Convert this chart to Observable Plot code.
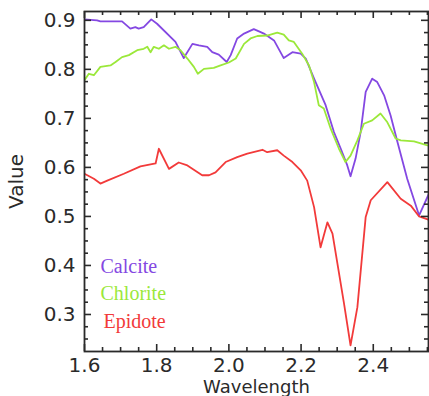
<!DOCTYPE html>
<html>
<head>
<meta charset="utf-8">
<script src="https://cdn.jsdelivr.net/npm/d3@7"></script>
<script src="https://cdn.jsdelivr.net/npm/@observablehq/plot@0.6"></script>
<style>
html, body { margin: 0; padding: 0; background: #fff; }
#chart svg { display: block; }
</style>
</head>
<body>
<div id="chart"></div>
<script>
// ---- Data ----
const seriesNames = ["Calcite", "Chlorite", "Epidote"];

const calciteWavelength = [1.600, 1.635, 1.644, 1.704, 1.727, 1.741, 1.750, 1.764, 1.785, 1.801, 1.852, 1.875, 1.899, 1.917, 1.940, 1.954, 1.972, 1.994, 2.005, 2.023, 2.042, 2.069, 2.088, 2.097, 2.125, 2.152, 2.176, 2.199, 2.213, 2.236, 2.268, 2.291, 2.310, 2.328, 2.337, 2.351, 2.365, 2.379, 2.397, 2.411, 2.430, 2.448, 2.467, 2.494, 2.527, 2.554];
const calciteValue = [0.902, 0.900, 0.898, 0.898, 0.883, 0.886, 0.883, 0.886, 0.902, 0.893, 0.856, 0.823, 0.852, 0.849, 0.846, 0.835, 0.830, 0.815, 0.829, 0.863, 0.873, 0.882, 0.876, 0.873, 0.859, 0.823, 0.835, 0.832, 0.822, 0.781, 0.727, 0.672, 0.638, 0.604, 0.582, 0.618, 0.672, 0.754, 0.781, 0.774, 0.747, 0.706, 0.652, 0.577, 0.502, 0.546];

const chloriteWavelength = [1.600, 1.612, 1.626, 1.644, 1.672, 1.686, 1.704, 1.723, 1.746, 1.764, 1.774, 1.783, 1.792, 1.806, 1.820, 1.834, 1.852, 1.866, 1.885, 1.903, 1.914, 1.931, 1.958, 1.977, 2.000, 2.019, 2.042, 2.060, 2.079, 2.106, 2.134, 2.152, 2.166, 2.180, 2.203, 2.222, 2.236, 2.249, 2.263, 2.282, 2.305, 2.323, 2.337, 2.356, 2.374, 2.397, 2.420, 2.439, 2.462, 2.476, 2.513, 2.550];
const chloriteValue = [0.778, 0.791, 0.788, 0.805, 0.808, 0.815, 0.825, 0.829, 0.839, 0.842, 0.846, 0.835, 0.846, 0.842, 0.849, 0.842, 0.846, 0.839, 0.822, 0.805, 0.791, 0.801, 0.803, 0.808, 0.814, 0.822, 0.852, 0.863, 0.868, 0.869, 0.875, 0.871, 0.859, 0.856, 0.832, 0.808, 0.774, 0.727, 0.720, 0.679, 0.638, 0.611, 0.624, 0.655, 0.689, 0.696, 0.710, 0.692, 0.659, 0.655, 0.653, 0.645];

const epidoteWavelength = [1.600, 1.626, 1.644, 1.663, 1.709, 1.755, 1.797, 1.806, 1.834, 1.861, 1.885, 1.926, 1.945, 1.963, 1.991, 2.023, 2.051, 2.093, 2.106, 2.134, 2.152, 2.176, 2.199, 2.217, 2.236, 2.254, 2.273, 2.287, 2.319, 2.337, 2.356, 2.379, 2.393, 2.439, 2.476, 2.504, 2.527, 2.554];
const epidoteValue = [0.587, 0.577, 0.567, 0.573, 0.587, 0.602, 0.608, 0.638, 0.597, 0.610, 0.604, 0.584, 0.584, 0.590, 0.611, 0.621, 0.628, 0.636, 0.631, 0.635, 0.624, 0.611, 0.594, 0.573, 0.519, 0.437, 0.488, 0.465, 0.322, 0.237, 0.315, 0.499, 0.533, 0.570, 0.536, 0.522, 0.500, 0.493];

const xMajorTicks = [1.6, 1.8, 2.0, 2.2, 2.4];
const xMinorTicks = [1.65, 1.7, 1.75, 1.85, 1.9, 1.95, 2.05, 2.1, 2.15, 2.25, 2.3, 2.35, 2.45, 2.5, 2.55];
const yMajorTicks = [0.3, 0.4, 0.5, 0.6, 0.7, 0.8, 0.9];
const yMinorTicks = [0.25, 0.275, 0.325, 0.35, 0.375, 0.425, 0.45, 0.475, 0.525, 0.55, 0.575, 0.625, 0.65, 0.675, 0.725, 0.75, 0.775, 0.825, 0.85, 0.875];

// ---- Styling ----
const seriesColors = ["#8448e2", "#9be83a", "#f23a3a"];
const W = 429, H = 396;
const mL = 84, mR = 1, mT = 11, mB = 45;
const innerW = W - mL - mR, innerH = H - mT - mB;
const axisColor = "#2a2a2a";

// ---- Build table ----
const rows = [];
[[calciteWavelength, calciteValue], [chloriteWavelength, chloriteValue], [epidoteWavelength, epidoteValue]]
  .forEach(([ws, vs], k) => ws.forEach((w, i) => rows.push({series: seriesNames[k], wavelength: w, value: vs[i]})));

const fmt = d => d.toFixed(1);
const tickStyle = {stroke: axisColor, strokeWidth: 1.6};

const chart = Plot.plot({
  width: W,
  height: H,
  marginLeft: mL, marginRight: mR, marginTop: mT, marginBottom: mB,
  style: {fontFamily: "DejaVu Sans, sans-serif", fontSize: "20px", color: axisColor, background: "#fff"},
  x: {domain: [1.6, 2.553]},
  y: {domain: [0.2245, 0.918]},
  color: {domain: seriesNames, range: seriesColors},
  marks: [
    Plot.line(rows, {x: "wavelength", y: "value", z: "series", stroke: "series", strokeWidth: 1.8, clip: true}),
    // inward ticks: left / right
    Plot.tickY(yMajorTicks, {...tickStyle, insetRight: innerW - 7}),
    Plot.tickY(yMinorTicks, {...tickStyle, insetRight: innerW - 4}),
    Plot.tickY(yMajorTicks, {...tickStyle, insetLeft: innerW - 7}),
    Plot.tickY(yMinorTicks, {...tickStyle, insetLeft: innerW - 4}),
    // inward ticks: bottom / top
    Plot.tickX(xMajorTicks, {...tickStyle, insetTop: innerH - 7}),
    Plot.tickX(xMinorTicks, {...tickStyle, insetTop: innerH - 4}),
    Plot.tickX(xMajorTicks, {...tickStyle, insetBottom: innerH - 7}),
    Plot.tickX(xMinorTicks, {...tickStyle, insetBottom: innerH - 4}),
    Plot.frame({stroke: axisColor, strokeWidth: 1.8}),
    Plot.axisX(xMajorTicks, {tickSize: 0, tickPadding: 6, tickFormat: fmt, fontSize: 20, label: null}),
    Plot.axisX([], {tickSize: 0, fontSize: 18, label: "Wavelength", labelAnchor: "center", labelArrow: "none", labelOffset: 41}),
    Plot.axisY(yMajorTicks, {tickSize: 0, tickPadding: 9, tickFormat: fmt, fontSize: 20, label: "Value", labelAnchor: "center", labelArrow: "none", labelOffset: 76}),
    // legend inside the frame
    ...seriesNames.map((name, i) => Plot.text([name], {
      text: d => d,
      frameAnchor: "bottom-left",
      textAnchor: "start",
      lineAnchor: "middle",
      dx: i === 2 ? 19 : 16,
      dy: [-85, -57.5, -30][i],
      fill: seriesColors[i],
      fontFamily: "Liberation Serif, serif",
      fontSize: 20
    }))
  ]
});
document.getElementById("chart").append(chart);
</script>
</body>
</html>
